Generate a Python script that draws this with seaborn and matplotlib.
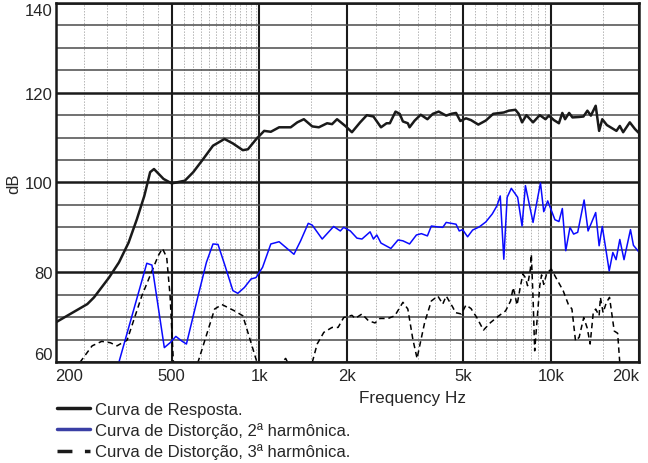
# ==========================
# Import Libraries
# ==========================
import pandas as pd
import matplotlib.pyplot as plt
import seaborn as sns
from matplotlib.lines import Line2D
from matplotlib.ticker import FixedLocator, NullFormatter

# ==========================
# Data
# ==========================
# Curva de Resposta (frequency in Hz, level in dB)
resp_freq = [200, 257, 271, 305, 330, 356, 380, 403, 422, 435, 469, 500, 555, 593,
             641, 693, 759, 811, 877, 913, 973, 1038, 1094, 1168, 1280, 1348, 1420,
             1517, 1598, 1706, 1774, 1845, 1969, 2075, 2214, 2334, 2459, 2610, 2728,
             2799, 2927, 3025, 3103, 3226, 3270, 3405, 3571, 3765, 3930, 4115, 4367,
             4539, 4720, 4880, 5105, 5312, 5628, 5968, 6330, 6881, 7155, 7541, 7740,
             7946, 8225, 8667, 9140, 9562, 9819, 10220, 10630, 10920, 11160, 11520,
             11830, 12470, 12900, 13310, 13680, 14210, 14600, 14970, 15520, 16740,
             17190, 17650, 18600, 19380, 20000]
resp_db = [68.8, 72.9, 74.4, 78.8, 82.2, 86.6, 91.8, 97.0, 102.3, 103.0, 100.8, 99.8,
           100.4, 102.3, 105.2, 108.2, 109.7, 108.7, 107.2, 107.4, 109.6, 111.5, 111.3,
           112.3, 112.3, 113.4, 114.1, 112.5, 112.3, 113.2, 113.0, 114.1, 112.6, 111.2,
           113.4, 115.0, 114.7, 112.3, 113.2, 113.2, 115.8, 115.3, 113.6, 113.2, 112.3,
           113.8, 115.1, 114.1, 115.3, 115.8, 114.9, 115.3, 115.5, 113.7, 114.3, 113.9,
           112.9, 113.8, 115.3, 115.6, 116.0, 116.2, 115.3, 113.4, 115.0, 113.4, 115.0,
           114.1, 114.9, 113.9, 113.2, 115.5, 114.1, 115.5, 114.5, 114.6, 114.7, 116.0,
           114.9, 117.1, 111.5, 114.1, 112.8, 111.5, 112.6, 111.2, 113.4, 111.9, 111.0]

# Curva de Distorcao, 2a harmonica
h2_freq = [320, 330, 411, 428, 472, 494, 517, 541, 562, 616, 658, 693, 721, 759, 811,
           843, 888, 936, 973, 1025, 1094, 1168, 1313, 1384, 1470, 1517, 1641, 1796,
           1893, 1944, 2049, 2159, 2246, 2395, 2459, 2525, 2610, 2822, 2986, 3103,
           3270, 3452, 3590, 3765, 3884, 4088, 4250, 4367, 4720, 4840, 4970, 5170,
           5380, 5668, 5968, 6283, 6517, 6690, 6881, 7065, 7300, 7676, 7946, 8160,
           8667, 9190, 9430, 9730, 10300, 10630, 10920, 11220, 11600, 11940, 12330,
           12970, 13380, 14210, 14600, 14970, 15810, 16270, 16690, 17190, 17770,
           18700, 19140, 20000]
h2_db = [58.0, 60.0, 82.0, 81.6, 63.2, 64.3, 65.7, 64.7, 64.0, 74.7, 82.2, 86.3, 86.2,
         81.8, 75.9, 75.3, 76.6, 78.5, 78.8, 81.1, 86.3, 86.8, 84.0, 87.0, 90.9, 90.5,
         87.4, 90.2, 89.2, 90.0, 89.2, 87.6, 87.4, 89.0, 87.4, 88.3, 86.5, 85.3, 87.2,
         87.0, 86.3, 88.3, 88.6, 88.1, 90.3, 90.1, 90.0, 91.1, 90.7, 89.2, 89.5, 87.9,
         89.4, 90.1, 91.2, 93.0, 94.8, 97.0, 82.9, 96.7, 98.7, 96.7, 90.3, 99.3, 91.1,
         99.9, 93.5, 95.9, 91.7, 91.3, 94.2, 84.8, 90.0, 88.5, 88.9, 96.1, 89.2, 93.3,
         85.9, 90.2, 80.3, 84.4, 82.8, 87.3, 82.8, 89.5, 86.0, 84.5]

# Curva de Distorcao, 3a harmonica (values under 60 dB fall off the chart)
h3_freq = [235, 243, 267, 288, 308, 325, 352, 395, 450, 465, 481, 494, 507, 515, 600,
           616, 702, 744, 821, 877, 980, 1000, 1150, 1180, 1230, 1280, 1480, 1517,
           1577, 1662, 1774, 1860, 1944, 2075, 2129, 2246, 2363, 2490, 2590, 2761,
           2911, 3103, 3226, 3355, 3470, 3542, 3684, 3884, 4088, 4250, 4367, 4600,
           4700, 4920, 5105, 5312, 5560, 5860, 6200, 6620, 6980, 7260, 7410, 7640,
           7850, 8000, 8160, 8300, 8490, 8550, 8670, 8780, 8950, 9140, 9270, 9430,
           9660, 10010, 10440, 10990, 11440, 11780, 12120, 12470, 12930, 13300,
           13600, 13940, 14210, 14600, 14750, 15060, 15470, 15850, 16450, 16900,
           17190, 17400]
h3_db = [58.0, 60.0, 63.6, 64.6, 64.3, 63.6, 64.9, 74.7, 83.7, 85.3, 83.3, 74.7, 60.0,
         55.0, 55.0, 60.0, 71.8, 72.8, 71.4, 70.3, 60.0, 57.0, 57.0, 59.6, 60.8, 58.5,
         57.0, 59.9, 64.0, 66.6, 67.7, 67.7, 69.9, 70.4, 69.7, 70.7, 69.2, 68.7, 69.7,
         69.7, 70.3, 73.3, 71.8, 65.1, 60.8, 63.6, 68.8, 73.6, 74.7, 72.9, 74.7, 72.2,
         71.0, 70.7, 72.7, 71.9, 69.9, 67.1, 68.8, 70.3, 71.4, 73.6, 76.6, 72.7, 77.0,
         79.6, 78.8, 77.0, 80.8, 84.0, 74.0, 62.5, 69.5, 77.0, 79.4, 77.3, 79.8, 80.7,
         78.5, 75.9, 72.9, 71.8, 64.7, 65.5, 69.9, 67.5, 64.0, 71.0, 71.8, 70.3, 74.4,
         71.0, 73.3, 74.4, 66.9, 66.4, 59.7, 57.0]

# Axis ticks and grid
x_ticks = [200, 500, 1000, 2000, 5000, 10000, 20000]
x_tick_labels = ["200", "500", "1k", "2k", "5k", "10k", "20k"]
x_minor = [250, 300, 350, 400, 450,
           550, 590, 630, 670, 710, 750, 790, 825, 860, 900, 935, 970,
           1500, 2500, 3000, 3500, 4000, 4500,
           5500, 6000, 6500, 7000, 7500, 8000, 8500, 9000, 9500, 15000]
y_ticks = [60, 80, 100, 120, 140]
y_minor = [65, 70, 75, 85, 90, 95, 105, 110, 115, 125, 130, 135]

legend_labels = ["Curva de Resposta.",
                 "Curva de Distorção, 2ª harmônica.",
                 "Curva de Distorção, 3ª harmônica."]

# ==========================
# Style
# ==========================
sns.set_style("white")
plt.rcParams["font.family"] = ["Liberation Sans", "DejaVu Sans"]

fig = plt.figure(figsize=(6.48, 4.64), dpi=100)
ax = fig.add_axes([0.0857, 0.2177, 0.9004, 0.7737])

# ==========================
# Curves
# ==========================
resp_df = pd.DataFrame({"freq": resp_freq, "dB": resp_db})
h2_df = pd.DataFrame({"freq": h2_freq, "dB": h2_db})
h3_df = pd.DataFrame({"freq": h3_freq, "dB": h3_db})

sns.lineplot(data=h3_df, x="freq", y="dB", ax=ax, color="black",
             linewidth=1.1, estimator=None, sort=False, linestyle="--")
ax.lines[-1].set_dashes([3.6, 2.5])

sns.lineplot(data=h2_df, x="freq", y="dB", ax=ax, color="#0a0aff",
             linewidth=1.1, estimator=None, sort=False)

sns.lineplot(data=resp_df, x="freq", y="dB", ax=ax, color="#1a1a1a",
             linewidth=1.8, estimator=None, sort=False)

# ==========================
# Axes, ticks, grid
# ==========================
ax.set_xscale("log")
ax.set_xlim(200, 20000)
ax.set_ylim(60, 140)

ax.set_xticks(x_ticks)
ax.set_xticklabels(x_tick_labels)
ax.xaxis.set_minor_locator(FixedLocator(x_minor))
ax.xaxis.set_minor_formatter(NullFormatter())
ax.set_yticks(y_ticks)
ax.yaxis.set_minor_locator(FixedLocator(y_minor))

xl = ax.get_xticklabels()
xl[0].set_ha("left")
xl[-1].set_ha("right")
yl = ax.get_yticklabels()
yl[0].set_va("bottom")
yl[-1].set_va("top")

ax.tick_params(which="both", length=0)
ax.tick_params(axis="x", pad=4, labelsize=12)
ax.tick_params(axis="y", pad=2, labelsize=12)

ax.grid(which="major", axis="x", color="#1a1a1a", linewidth=1.5)
ax.grid(which="minor", axis="x", color="#b4b4b4", linewidth=0.7,
        linestyle=(0, (1.5, 1.5)))
ax.grid(which="major", axis="y", color="#1a1a1a", linewidth=1.8)
ax.grid(which="minor", axis="y", color="#4a4a4a", linewidth=1.1)
ax.set_axisbelow(True)

for spine in ax.spines.values():
    spine.set_color("#1a1a1a")
    spine.set_linewidth(1.8)

ax.set_xlabel("Frequency Hz", fontsize=12.3)
ax.xaxis.set_label_coords(0.612, -0.077)
ax.set_ylabel("dB", fontsize=12)
ax.yaxis.set_label_coords(-0.058, 0.5)

# ==========================
# Legend
# ==========================
dash_handle = Line2D([], [], color="#1a1a1a", linewidth=2.5)
dash_handle.set_dashes([4.3, 3.6])
handles = [
    Line2D([], [], color="#1a1a1a", linewidth=2.5),
    Line2D([], [], color="#3a3fa5", linewidth=2.5),
    dash_handle,
]
fig.legend(handles, legend_labels, loc="upper left",
           bbox_to_anchor=(56.7 / 648, 1 - 403 / 464), frameon=False,
           fontsize=12, handlelength=2.0, handletextpad=0.3,
           labelspacing=0.32, borderpad=0, borderaxespad=0)

plt.savefig("out.png", dpi=100)
